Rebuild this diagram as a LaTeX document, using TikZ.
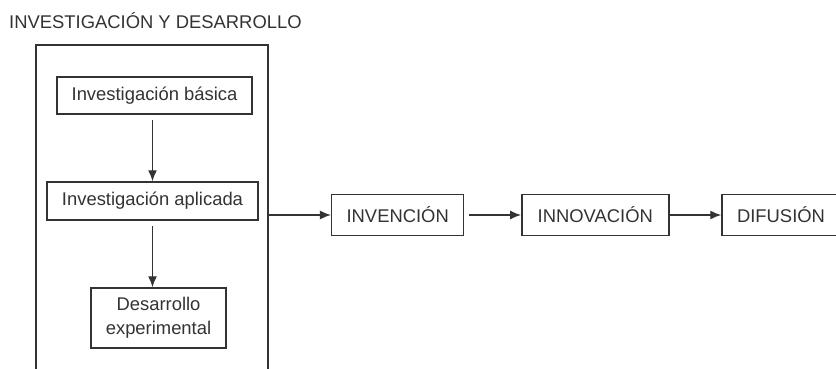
\documentclass[tikz,border=0pt]{standalone}
\usepackage{fontspec}
\setmainfont{Liberation Sans}
\usetikzlibrary{arrows.meta}
\definecolor{ink}{gray}{0.2}
\begin{document}
\begin{tikzpicture}[x=1pt,y=-1pt,
  every node/.style={text=ink, font=\fontsize{18.4}{23}\selectfont},
  stagebox/.style={draw=ink, line width=1.5pt, inner sep=0pt, align=center},
  flow/.style={draw=ink, line width=1.4pt, -{Latex[length=11pt,width=9pt]}},
  link/.style={draw=ink, line width=1.5pt}]
  \clip (0,0) rectangle (836,369);
  \fill[white] (0,0) rectangle (836,369);

  % heading
  \node[anchor=west, inner sep=0pt] (title) at (9,21) {INVESTIGACIÓN Y DESARROLLO};

  % frame around the research stages (open at the bottom)
  \coordinate (frameBL) at (36,380);
  \coordinate (frameTL) at (36,45);
  \coordinate (frameTR) at (268,45);
  \coordinate (frameBR) at (268,380);
  \draw[link] (frameBL) -- (frameTL) -- (frameTR) -- (frameBR);

  % research stages
  \node[stagebox, minimum width=195pt, minimum height=37pt] (basica) at (154.5,95.5) {Investigación básica};
  \node[stagebox, minimum width=211pt, minimum height=38pt] (aplicada) at (152.5,201) {Investigación aplicada};
  \node[stagebox, minimum width=135pt, minimum height=60pt] (desarrollo) at (158.5,318) {Desarrollo\\[1pt]experimental};

  % process stages
  \node[stagebox, minimum width=132pt, minimum height=41pt] (invencion) at (397.7,215) {INVENCIÓN};
  \node[stagebox, minimum width=147pt, minimum height=41pt] (innovacion) at (595.3,215) {INNOVACIÓN};
  \node[stagebox, minimum width=118pt, minimum height=41pt] (difusion) at (781,215) {DIFUSIÓN};

  % vertical arrows
  \draw[flow, shorten <=5pt] (basica.south -| aplicada.north) -- (aplicada.north);
  \draw[flow, shorten <=5pt] (aplicada.south) -- (desarrollo.north -| aplicada.south);

  % horizontal arrows
  \coordinate (frameOut) at (268,215);
  \draw[flow] (frameOut) -- (invencion.west);
  \draw[flow, shorten <=5pt] (invencion.east) -- (innovacion.west);
  \draw[flow] (innovacion.east) -- (difusion.west);
\end{tikzpicture}
\end{document}
